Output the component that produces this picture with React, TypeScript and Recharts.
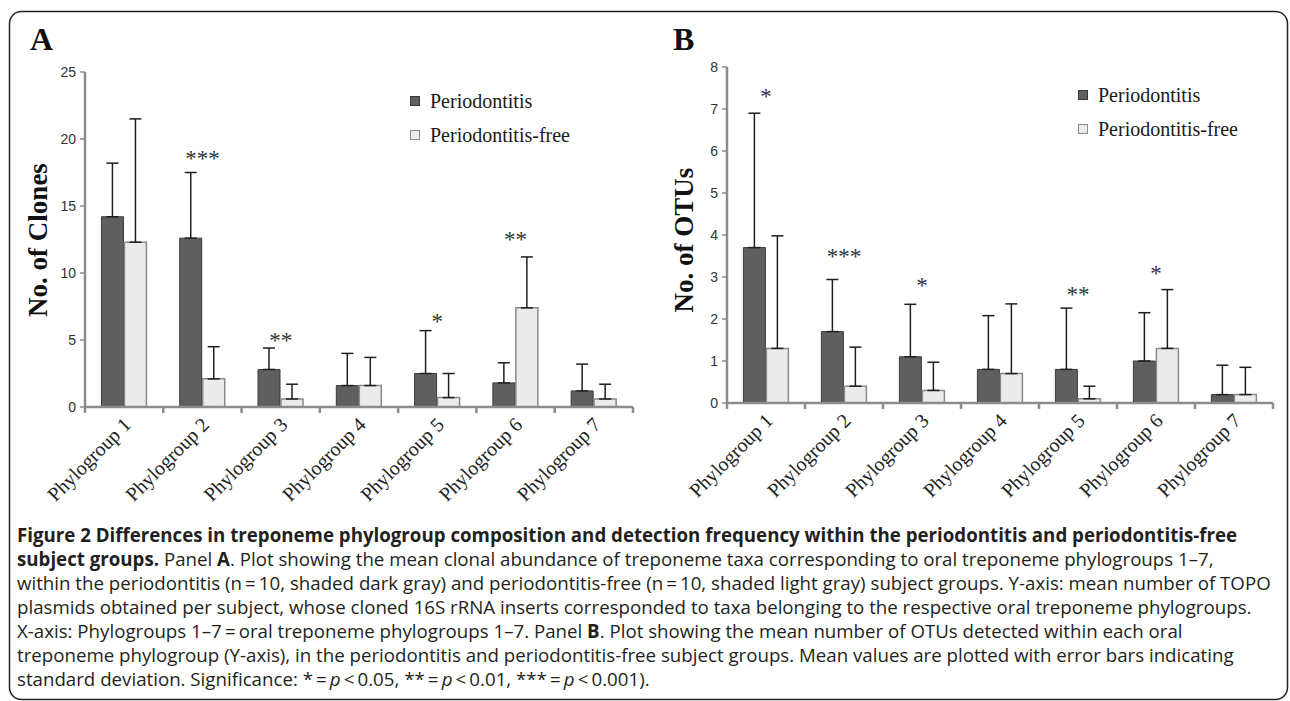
import React from 'react';
import { BarChart, Bar, XAxis, YAxis, ErrorBar, ReferenceDot, Legend } from 'recharts';

const categories = ['Phylogroup 1', 'Phylogroup 2', 'Phylogroup 3', 'Phylogroup 4', 'Phylogroup 5', 'Phylogroup 6', 'Phylogroup 7'];
const seriesNames = ['Periodontitis', 'Periodontitis-free'];

// Panel A: No. of Clones
const clonesPerio = [14.2, 12.6, 2.8, 1.6, 2.5, 1.8, 1.2];
const clonesPerioSD = [4.0, 4.9, 1.6, 2.4, 3.2, 1.5, 2.0];
const clonesFree = [12.3, 2.1, 0.6, 1.6, 0.7, 7.4, 0.6];
const clonesFreeSD = [9.2, 2.4, 1.1, 2.1, 1.8, 3.8, 1.1];
const clonesSig = ['', '***', '**', '', '*', '**', ''];
const clonesSigY = [null, 18.9, 5.3, null, 6.7, 12.8, null];
const clonesTicks = [0, 5, 10, 15, 20, 25];

// Panel B: No. of OTUs
const otusPerio = [3.7, 1.7, 1.1, 0.8, 0.8, 1.0, 0.2];
const otusPerioSD = [3.2, 1.24, 1.25, 1.28, 1.46, 1.15, 0.7];
const otusFree = [1.3, 0.4, 0.3, 0.7, 0.1, 1.3, 0.2];
const otusFreeSD = [2.68, 0.93, 0.67, 1.66, 0.3, 1.4, 0.65];
const otusSig = ['*', '***', '*', '', '**', '*', ''];
const otusSigY = [7.4, 3.6, 2.9, null, 2.7, 3.2, null];
const otusTicks = [0, 1, 2, 3, 4, 5, 6, 7, 8];

type Seg = { t: string; b?: boolean; i?: boolean };
const captionLines: Seg[][] = [
  [{ t: 'Figure 2 Differences in treponeme phylogroup composition and detection frequency within the periodontitis and periodontitis-free', b: true }],
  [{ t: 'subject groups.', b: true }, { t: ' Panel ' }, { t: 'A', b: true }, { t: '. Plot showing the mean clonal abundance of treponeme taxa corresponding to oral treponeme phylogroups 1–7,' }],
  [{ t: 'within the periodontitis (n\u2009=\u200910, shaded dark gray) and periodontitis-free (n\u2009=\u200910, shaded light gray) subject groups. Y-axis: mean number of TOPO' }],
  [{ t: 'plasmids obtained per subject, whose cloned 16S rRNA inserts corresponded to taxa belonging to the respective oral treponeme phylogroups.' }],
  [{ t: 'X-axis: Phylogroups 1–7\u2009=\u2009oral treponeme phylogroups 1–7. Panel ' }, { t: 'B', b: true }, { t: '. Plot showing the mean number of OTUs detected within each oral' }],
  [{ t: 'treponeme phylogroup (Y-axis), in the periodontitis and periodontitis-free subject groups. Mean values are plotted with error bars indicating' }],
  [{ t: 'standard deviation. Significance: *\u2009=\u2009' }, { t: 'p', i: true }, { t: '\u2009<\u20090.05, **\u2009=\u2009' }, { t: 'p', i: true }, { t: '\u2009<\u20090.01, ***\u2009=\u2009' }, { t: 'p', i: true }, { t: '\u2009<\u20090.001).' }],
];

const SERIF = "'Liberation Serif', 'Times New Roman', serif";
const SANS = "'Liberation Sans', Arial, sans-serif";
const CAPTION_FONT = "'Open Sans', 'Noto Sans', sans-serif";
const fills = ['#5f5f5f', '#ebebeb'];
const strokes = ['#3a3a3a', '#8a8a8a'];
const AXIS = '#8c8c8c';

const PhyloTick = (props: any) => {
  const { x, y, payload, width, visibleTicksCount, index } = props;
  const n = visibleTicksCount || categories.length;
  const band = width ? width / n : 2 * ((payload && payload.offset) || 0);
  const tx = x + 8;
  const ty = y + 19;
  return (
    <g>
      <line x1={x - band / 2} x2={x - band / 2} y1={y} y2={y + 6} stroke={AXIS} strokeWidth={2.5} />
      {index === n - 1 ? <line x1={x + band / 2} x2={x + band / 2} y1={y} y2={y + 6} stroke={AXIS} strokeWidth={2.5} /> : null}
      <text x={tx} y={ty} transform={`rotate(-45 ${tx} ${ty})`} textAnchor="end" fontFamily={SERIF} fontSize={20} fill="#222">
        {payload.value}
      </text>
    </g>
  );
};

const sigContent = (text: string) => (p: any) => {
  const vb = p.viewBox || {};
  const cx = (vb.x ?? 0) + (vb.width ?? 0) / 2;
  const cy = (vb.y ?? 0) + (vb.height ?? 0) / 2;
  return (
    <text x={cx} y={cy + 12} textAnchor="middle" fontFamily={SERIF} fontSize={23} fill="#333">
      {text}
    </text>
  );
};

const titleContent = (text: string, dx: number, dy: number) => (p: any) => {
  const vb = p.viewBox || {};
  const cx = (vb.x ?? 0) + dx;
  const cy = (vb.y ?? 0) + (vb.height ?? 0) / 2 + dy;
  return (
    <text x={cx} y={cy} transform={`rotate(-90 ${cx} ${cy})`} textAnchor="middle" dominantBaseline="central" fontFamily={SERIF} fontWeight="bold" fontSize={27} fill="#111">
      {text}
    </text>
  );
};

const LegendBox = () => (
  <div style={{ fontFamily: SERIF, fontSize: 20, color: '#1a1a1a' }}>
    {seriesNames.map((n, i) => (
      <div key={n} style={{ display: 'flex', alignItems: 'center', height: 34, whiteSpace: 'nowrap' }}>
        <span style={{ display: 'inline-block', width: 8, height: 8, background: fills[i], border: `1px solid ${strokes[i]}`, marginRight: 10 }} />
        <span>{n}</span>
      </div>
    ))}
  </div>
);

type PanelProps = {
  data: any[];
  yMax: number;
  yTicks: number[];
  yTitle: string;
  sig: string[];
  sigY: (number | null)[];
  yAxisWidth: number;
  plotTop: number;
  plotBottom: number;
  legendLeft: number;
  legendTop: number;
  titleDx: number;
  titleDy: number;
};

function Panel(p: PanelProps) {
  const W = 650;
  const H = 520;
  return (
    <BarChart width={W} height={H} data={p.data} margin={{ top: p.plotTop, right: 17, left: 0, bottom: 0 }} barCategoryGap="21%" barGap={1}>
      <XAxis
        dataKey="name"
        interval={0}
        tickLine={false}
        tickSize={0}
        tickMargin={0}
        height={H - p.plotBottom}
        axisLine={{ stroke: AXIS, strokeWidth: 2.5 }}
        tick={<PhyloTick />}
      />
      <YAxis
        type="number"
        domain={[0, p.yMax]}
        ticks={p.yTicks}
        interval={0}
        width={p.yAxisWidth}
        tickSize={5}
        tickMargin={4}
        allowDataOverflow
        axisLine={{ stroke: AXIS, strokeWidth: 2.5 }}
        tickLine={{ stroke: AXIS, strokeWidth: 1.5 }}
        tick={{ fontFamily: SANS, fontSize: 14, fill: '#333' }}
        label={{ content: titleContent(p.yTitle, p.titleDx, p.titleDy) } as any}
      />
      <Legend
        layout="vertical"
        align="center"
        verticalAlign="middle"
        wrapperStyle={{ left: p.legendLeft, top: p.legendTop, width: 'auto', margin: 0, padding: 0 }}
        content={() => <LegendBox />}
      />
      <Bar dataKey="perio" name={seriesNames[0]} fill={fills[0]} stroke={strokes[0]} strokeWidth={1} isAnimationActive={false}>
        <ErrorBar dataKey={((d: any) => [0, d.perioSD]) as any} width={6} strokeWidth={1.5} stroke="#1e1e1e" direction="y" />
      </Bar>
      <Bar dataKey="free" name={seriesNames[1]} fill={fills[1]} stroke={strokes[1]} strokeWidth={1.5} isAnimationActive={false}>
        <ErrorBar dataKey={((d: any) => [0, d.freeSD]) as any} width={6} strokeWidth={1.5} stroke="#1e1e1e" direction="y" />
      </Bar>
      {categories.map((c, i) =>
        p.sig[i] ? (
          <ReferenceDot key={c} x={c} y={p.sigY[i] as number} r={0} fill="none" stroke="none" ifOverflow="visible" label={{ content: sigContent(p.sig[i]) } as any} />
        ) : null
      )}
    </BarChart>
  );
}

export default function App() {
  const clonesData = categories.map((name, i) => ({
    name,
    perio: clonesPerio[i],
    perioSD: clonesPerioSD[i],
    free: clonesFree[i],
    freeSD: clonesFreeSD[i],
  }));
  const otusData = categories.map((name, i) => ({
    name,
    perio: otusPerio[i],
    perioSD: otusPerioSD[i],
    free: otusFree[i],
    freeSD: otusFreeSD[i],
  }));
  const lineY0 = 541.5;
  const lineStep = 24;
  return (
    <div style={{ position: 'absolute', left: 0, top: 0, width: 1290, height: 701, background: '#fff', overflow: 'hidden' }}>
      <svg width={1290} height={701} style={{ position: 'absolute', left: 0, top: 0 }}>
        <rect x={9.5} y={11.5} width={1278} height={688} rx={12} ry={12} fill="none" stroke="#222" strokeWidth={1.5} />
        <text x={30} y={50} fontFamily={SERIF} fontWeight="bold" fontSize={32} fill="#111">A</text>
        <text x={673} y={50} fontFamily={SERIF} fontWeight="bold" fontSize={32} fill="#111">B</text>
        {captionLines.map((segs, li) => (
          <text key={li} x={17} y={lineY0 + li * lineStep} fontFamily={CAPTION_FONT} fontSize={18.7} fill="#231f20" xmlSpace="preserve">
            {segs.map((s, si) => (
              <tspan key={si} fontWeight={s.b ? 'bold' : 'normal'} fontStyle={s.i ? 'italic' : 'normal'}>{s.t}</tspan>
            ))}
          </text>
        ))}
      </svg>
      <div style={{ position: 'absolute', left: 0, top: 0 }}>
        <Panel data={clonesData} yMax={25} yTicks={clonesTicks} yTitle="No. of Clones" sig={clonesSig} sigY={clonesSigY}
          yAxisWidth={85} plotTop={72} plotBottom={407} legendLeft={410} legendTop={84} titleDx={38} titleDy={0.5} />
      </div>
      <div style={{ position: 'absolute', left: 640, top: 0 }}>
        <Panel data={otusData} yMax={8} yTicks={otusTicks} yTitle="No. of OTUs" sig={otusSig} sigY={otusSigY}
          yAxisWidth={87} plotTop={67} plotBottom={403} legendLeft={438} legendTop={78} titleDx={43.5} titleDy={5} />
      </div>
    </div>
  );
}
